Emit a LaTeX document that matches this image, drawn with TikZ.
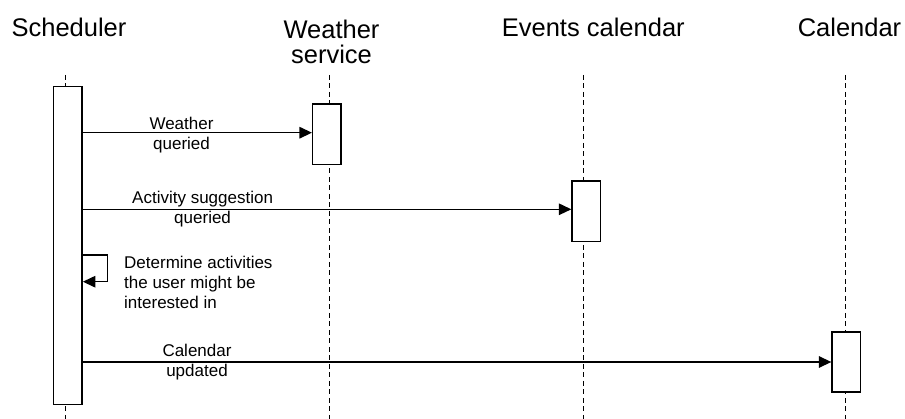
\documentclass[tikz,border=0pt]{standalone}
\usepackage{fontspec}
\setmainfont{Liberation Sans}
\usetikzlibrary{arrows.meta}
\begin{document}
\begin{tikzpicture}[x=1pt,y=-1pt,
  title/.style={font=\fontsize{25.5}{25}\selectfont, align=center, inner sep=0pt, anchor=base},
  msglabel/.style={font=\fontsize{17}{20}\selectfont, align=center, inner sep=0pt, anchor=base},
  lifeline/.style={line width=1.4pt, dash pattern=on 5pt off 3.5pt},
  actbox/.style={draw, fill=white, line width=1.4pt, minimum width=28.5pt, inner sep=0pt, anchor=north},
  msg/.style={line width=1.4pt, -{Triangle[length=12.5pt,width=11.5pt]}}
]
\useasboundingbox (0,0) rectangle (905,419);

% participants (a multi-line node sits on the baseline of its last line)
\node[title] (tSch) at (69,37) {Scheduler};
\node[title] (tWs)  at (331.5,64) {Weather\\service};
\node[title] (tEv)  at (593.3,37) {Events calendar};
\node[title] (tCal) at (849.5,37) {Calendar};

% lifelines
\coordinate (schTop) at (65.7,75);  \coordinate (schBot) at (65.7,419);
\coordinate (wsTop)  at (329.3,75); \coordinate (wsBot)  at (329.3,419);
\coordinate (evTop)  at (583.3,75); \coordinate (evBot)  at (583.3,419);
\coordinate (calTop) at (845.3,75); \coordinate (calBot) at (845.3,419);
\draw[lifeline] (schTop) -- (schBot);
\draw[lifeline] (wsTop) -- (wsBot);
\draw[lifeline] (evTop) -- (evBot);
\draw[lifeline] (calTop) -- (calBot);

% activation bars
\node[actbox, minimum height=318pt]  (sch) at (67.9,86) {};
\node[actbox, minimum height=60.7pt] (ws)  at (326.9,103.3) {};
\node[actbox, minimum height=60.7pt] (ev)  at (586.3,180.3) {};
\node[actbox, minimum height=60pt]   (cal) at (846.3,331.3) {};

% message levels
\coordinate (m1) at (0,132.7);
\coordinate (m2) at (0,209.3);
\coordinate (s1) at (0,255);
\coordinate (s2) at (0,281.7);
\coordinate (m3) at (0,362);

% messages
\draw[msg] (sch.east |- m1) -- (ws.west |- m1);
\node[msglabel] (l1) at (181.5,150) {Weather\\queried};

\draw[msg] (sch.east |- m2) -- (ev.west |- m2);
\node[msglabel] (l2) at (202.6,223.3) {Activity suggestion\\queried};

\draw[msg] (sch.east |- s1) -- ++(24.7,0) |- (sch.east |- s2);
\node[msglabel, align=left, anchor=base west] (l3) at (124,309)
  {Determine activities\\the user might be\\interested in};

\draw[msg] (sch.east |- m3) -- (cal.west |- m3);
\node[msglabel] (l4) at (197,376.7) {Calendar\\updated};
\end{tikzpicture}
\end{document}
